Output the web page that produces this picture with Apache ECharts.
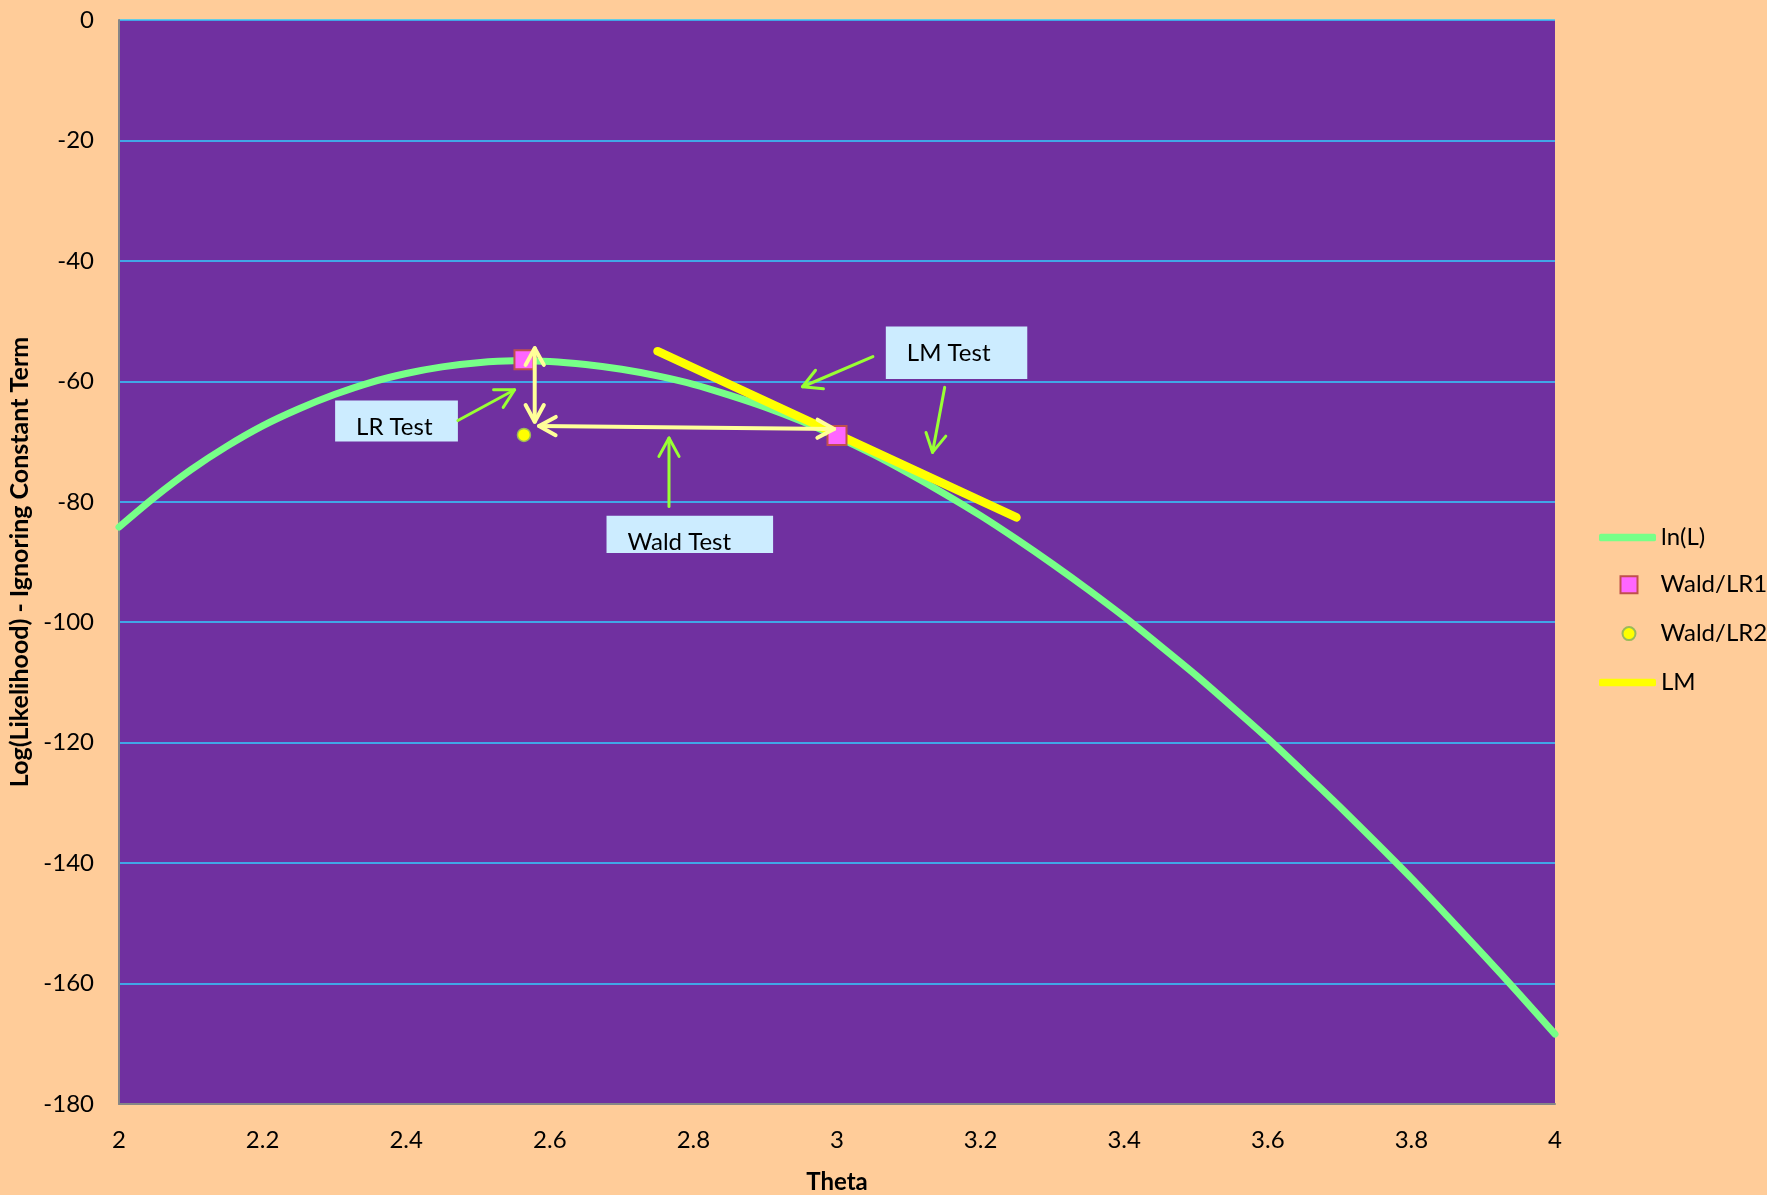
<!DOCTYPE html>
<html><head><meta charset="utf-8">
<script src="https://cdn.jsdelivr.net/npm/echarts@6/dist/echarts.min.js"></script>
<style>html,body{margin:0;padding:0;background:#FFCC99;}#chart{width:1767px;height:1195px;}</style>
</head><body><div id="chart"></div>
<script>
// ---- data ----
const thetaGrid = [2.00,2.05,2.10,2.15,2.20,2.25,2.30,2.35,2.40,2.45,2.50,2.55,2.60,2.65,2.70,2.75,2.80,2.85,2.90,2.95,
                   3.00,3.05,3.10,3.15,3.20,3.25,3.30,3.35,3.40,3.45,3.50,3.55,3.60,3.65,3.70,3.75,3.80,3.85,3.90,3.95,4.00];
const lnL = [-84.2,-79.2,-74.7,-70.8,-67.4,-64.6,-62.2,-60.2,-58.7,-57.6,-56.9,-56.6,-56.7,-57.2,-58.0,-59.1,-60.5,-62.3,-64.3,-66.6,
             -69.2,-72.1,-75.3,-78.7,-82.3,-86.2,-90.3,-94.6,-99.1,-103.9,-108.8,-114.0,-119.3,-124.9,-130.6,-136.5,-142.5,-148.8,-155.2,-161.7,-168.4];
const waldLR1 = [[2.564,-56.4],[3.0,-69.0]];
const waldLR2 = [[2.564,-68.9]];
const lmLine = [[2.75,-55.0],[3.25,-82.6]];
const noteLabels = ['LR Test','Wald Test','LM Test'];
const noteBoxes = [[2.301,-63.2,2.472,-70.0],[2.679,-82.3,2.911,-88.5],[3.068,-50.9,3.265,-59.6]];
const greenArrows = [[2.472,-66.5,2.551,-61.4],[2.766,-80.8,2.766,-69.4],[3.050,-55.9,2.952,-60.9],[3.150,-61.0,3.133,-71.8]];
const doubleArrows = [[2.579,-54.5,2.579,-66.7],[2.585,-67.4,2.996,-67.9]];
const xRange = [2,4,0.2];
const yRange = [-180,0,20];

const FONT = 'Lato';
function head(tip, from, len, ang){
  const a = Math.atan2(tip[1]-from[1], tip[0]-from[0]);
  return [[tip[0]-len*Math.cos(a-ang), tip[1]-len*Math.sin(a-ang)], [tip[0],tip[1]], [tip[0]-len*Math.cos(a+ang), tip[1]-len*Math.sin(a+ang)]];
}
function arrowRender(color, width, len, both){
  return function(params, api){
    const p0 = api.coord([api.value(0), api.value(1)]);
    const p1 = api.coord([api.value(2), api.value(3)]);
    const st = {stroke: color, lineWidth: width, fill: null, lineCap:'round', lineJoin:'round'};
    const ch = [
      {type:'line', shape:{x1:p0[0],y1:p0[1],x2:p1[0],y2:p1[1]}, style:st},
      {type:'polyline', shape:{points: head(p1,p0,len,0.5)}, style:st}
    ];
    if (both) ch.push({type:'polyline', shape:{points: head(p0,p1,len,0.5)}, style:st});
    return {type:'group', children: ch};
  };
}

const chart = echarts.init(document.getElementById('chart'));
function lt(pad){ return {fontSize:24, fontFamily:FONT, color:'#000', padding:[0,0,0,pad]}; }
chart.setOption({
  animation:false,
  backgroundColor:'#FFCC99',
  grid:{left:119, right:212, top:20, bottom:91, show:true, backgroundColor:'#7030A0', borderWidth:0,
        containLabel:false, outerBoundsMode:'none'},
  xAxis:{type:'value', min:xRange[0], max:xRange[1], interval:xRange[2],
    axisLine:{onZero:false, lineStyle:{color:'#868686', width:2}}, axisTick:{show:false}, splitLine:{show:false},
    axisLabel:{fontSize:24, fontFamily:FONT, color:'#000', margin:24},
    name:'Theta', nameLocation:'middle', nameGap:66,
    nameTextStyle:{fontSize:24, fontWeight:'bold', fontFamily:FONT, color:'#000'}},
  yAxis:{type:'value', min:yRange[0], max:yRange[1], interval:yRange[2],
    axisLine:{show:true, onZero:false, lineStyle:{color:'#868686', width:2}}, axisTick:{show:false},
    splitLine:{show:true, lineStyle:{color:'#33CCFF', width:1.5}},
    axisLabel:{fontSize:24, fontFamily:FONT, color:'#000', margin:25},
    name:'Log(Likelihood) - Ignoring Constant Term', nameLocation:'middle', nameGap:72, nameRotate:90,
    nameTextStyle:{fontSize:25, fontWeight:'bold', fontFamily:FONT, color:'#000'}},
  legend:[
    {data:[{name:'ln(L)', icon:'roundRect'}], left:1599, top:525.5, padding:0, itemWidth:57, itemHeight:7.5, selectedMode:false, textStyle:lt(0)},
    {data:['Wald/LR1'], left:1619.5, top:572.7, padding:0, itemWidth:17, itemHeight:17, selectedMode:false, textStyle:lt(18)},
    {data:['Wald/LR2'], left:1621.5, top:621.6, padding:0, itemWidth:13, itemHeight:13, selectedMode:false, textStyle:lt(20)},
    {data:[{name:'LM', icon:'roundRect'}], left:1599, top:670.5, padding:0, itemWidth:57, itemHeight:7.5, selectedMode:false, textStyle:lt(0)}
  ],
  series:[
    {name:'ln(L)', type:'line', z:2, data: thetaGrid.map((t,i)=>[t, lnL[i]]), smooth:0.25, symbol:'none',
      lineStyle:{color:'#77FF88', width:7, cap:'round', join:'round'}, itemStyle:{color:'#77FF88'}},
    {name:'LM', type:'line', z:3, data: lmLine, symbol:'none',
      lineStyle:{color:'#FFFF00', width:8.5, cap:'round'}, itemStyle:{color:'#FFFF00'}},
    {name:'Wald/LR1', type:'scatter', z:4, data: waldLR1, symbol:'rect', symbolSize:19,
      itemStyle:{color:'#FF66FF', borderColor:'#C0504D', borderWidth:2, opacity:1}},
    {name:'Wald/LR2', type:'scatter', z:4, data: waldLR2, symbol:'circle', symbolSize:13,
      itemStyle:{color:'#FFFF00', borderColor:'#9BBB59', borderWidth:1.5, opacity:1}},
    {name:'notes', type:'custom', z:5, data: noteBoxes, silent:true,
      renderItem:function(params, api){
        const p0 = api.coord([api.value(0), api.value(1)]);
        const p1 = api.coord([api.value(2), api.value(3)]);
        const x = Math.min(p0[0],p1[0]), y = Math.min(p0[1],p1[1]);
        const w = Math.abs(p1[0]-p0[0]), h = Math.abs(p1[1]-p0[1]);
        return {type:'group', children:[
          {type:'rect', shape:{x:x,y:y,width:w,height:h}, style:{fill:'#CCECFF'}},
          {type:'text', x:x+21, y:y+27, style:{text: noteLabels[params.dataIndex], fill:'#000', fontSize:24, fontFamily:FONT, align:'left', verticalAlign:'middle'}}
        ]};
      }},
    {name:'greenArrows', type:'custom', z:6, data: greenArrows, silent:true, renderItem: arrowRender('#99FF33', 3, 21, false)},
    {name:'dblArrows', type:'custom', z:6, data: doubleArrows, silent:true, renderItem: arrowRender('#FFFF99', 4, 19, true)}
  ]
});
</script></body></html>
